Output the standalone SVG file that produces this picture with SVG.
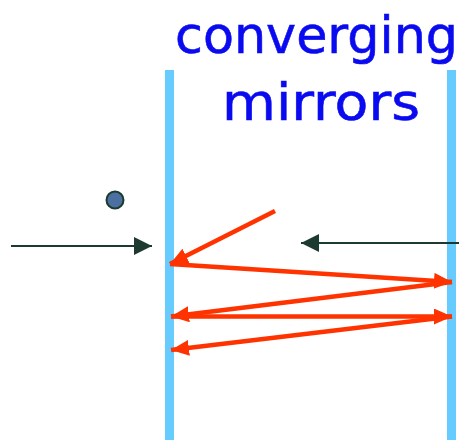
<svg xmlns="http://www.w3.org/2000/svg" width="467" height="440" viewBox="0 0 467 440">
<style>
.mirror{fill:#66ccff}
.title{font-family:"DejaVu Sans",sans-serif;font-size:51px;fill:#0a0af0;stroke:#0a0af0;stroke-width:0.6}
.red{stroke:#ff3300;stroke-width:4.5;fill:none;marker-end:url(#rh)}
.blk{stroke:#1c3a30;stroke-width:2;fill:none;marker-end:url(#bh)}
</style>
<defs>
<marker id="rh" markerUnits="userSpaceOnUse" markerWidth="20" markerHeight="18" refX="18" refY="8" orient="auto"><path d="M0,0 L18,8 L0,16 z" fill="#ff3300"/></marker>
<marker id="bh" markerUnits="userSpaceOnUse" markerWidth="20" markerHeight="20" refX="18" refY="9" orient="auto"><path d="M0,0 L18,9 L0,18 z" fill="#1c3a30"/></marker>
</defs>
<g id="title">
<text class="title" x="175" y="53" textLength="283" lengthAdjust="spacingAndGlyphs">converging</text>
<text class="title" x="222" y="120" textLength="198" lengthAdjust="spacingAndGlyphs">mirrors</text>
</g>
<g id="mirror-left"><rect class="mirror" x="165" y="70" width="9" height="370"/></g>
<g id="mirror-right"><rect class="mirror" x="447" y="70" width="9" height="370"/></g>
<g id="dot"><circle cx="115" cy="200" r="8.5" fill="#4a6fa0" stroke="#1c3a30" stroke-width="2"/></g>
<g id="connectors">
<line class="blk" x1="11" y1="246" x2="152" y2="246"/>
<line class="blk" x1="459" y1="243" x2="301" y2="243"/>
<line class="red" x1="275" y1="211" x2="170" y2="264"/>
<line class="red" x1="170" y1="264" x2="452" y2="282"/>
<line class="red" x1="452" y1="282" x2="171" y2="316.5"/>
<line class="red" x1="171" y1="316.5" x2="452" y2="316.5"/>
<line class="red" x1="452" y1="316.5" x2="171" y2="350"/>
</g>
</svg>
